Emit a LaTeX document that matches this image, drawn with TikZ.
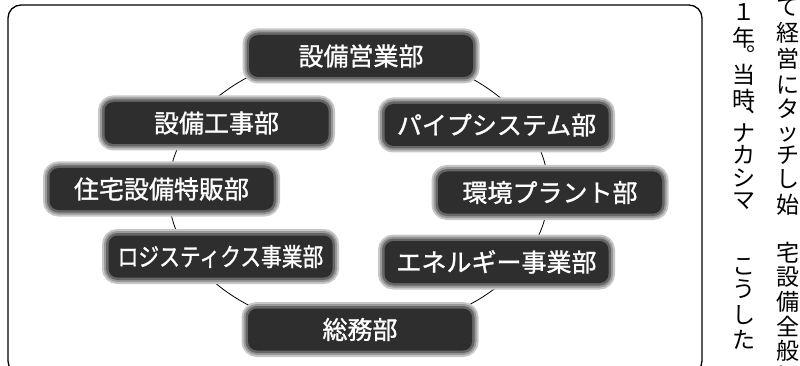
\documentclass[tikz,border=0pt]{standalone}
\usepackage{fontspec}
\usepackage{graphicx}
\setmainfont{Noto Sans CJK JP}
\newfontfamily\deptfont[FakeBold=1.2]{Noto Sans CJK JP}
\tikzset{
  dept/.style={rounded corners=9pt, fill=black!82, text=white,
    minimum width=224pt, minimum height=42pt, inner sep=0pt,
    font=\deptfont\fontsize{25}{25}\selectfont, text height=22pt, text depth=3pt,
    preaction={draw=black!22, line width=13pt},
    preaction={draw=black!40, line width=9pt},
    preaction={draw=black!60, line width=5pt}},
  ring/.style={draw=black, line width=0.8pt},
  frame/.style={draw=black, line width=1.3pt, rounded corners=13pt},
  vchar/.style={inner sep=0pt, font=\fontsize{23}{23}\selectfont,
    text height=20.24pt, text depth=2.76pt, text width=23pt, align=center}
}
\begin{document}
\begin{tikzpicture}[x=1pt,y=-1pt]
\useasboundingbox (0,0) rectangle (800,366);
% frame
\draw[frame] (8,5) rectangle (702,374);
% ring connecting the departments
\coordinate (ringc) at (358.5,191);
\draw[ring] (ringc) ellipse [x radius=190, y radius=140];
% departments
\node[dept] (eigyo)  at (361,56)    {設備営業部};
\node[dept] (kouji)  at (216.5,123) {設備工事部};
\node[dept] (pipe)   at (496.5,125) {パイプシステム部};
\node[dept] (jutaku) at (161.5,189) {住宅設備特販部};
\node[dept] (kankyo) at (550,192.5) {環境プラント部};
\node[dept] (logi)   at (220.5,256.5) {\scalebox{0.83}[1]{ロジスティクス事業部}};
\node[dept] (energy) at (496.5,262) {エネルギー事業部};
\node[dept] (soumu)  at (360,329.5) {総務部};
% vertical newspaper text (right margin)
\foreach \c/\y [count=\i] in {て/7,経/33,営/59,に/85,タ/109,ッ/132,チ/155,し/179,始/205,宅/253,設/277,備/302,全/327,般/351,に/375}
  \node[vchar] (colA\i) at (788,\y) {\c};
\foreach \c/\y [count=\i] in {１/12,年/38,︒/56,当/75,時/100,︑/118,ナ/133,カ/155,シ/178,マ/200,こ/266,う/289,し/315,た/340}
  \node[vchar] (colB\i) at (744,\y) {\c};
\end{tikzpicture}
\end{document}
